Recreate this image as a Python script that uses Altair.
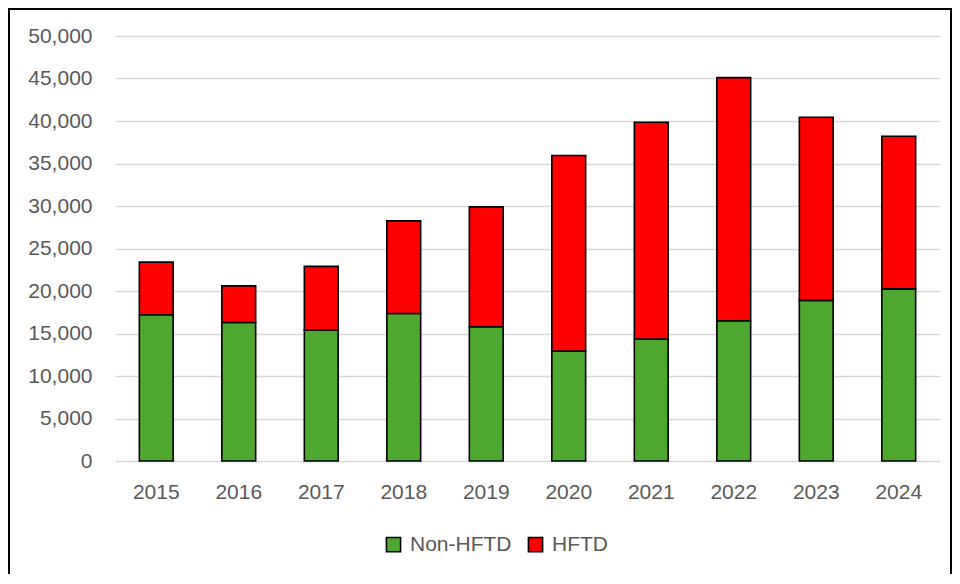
import altair as alt
import pandas as pd

years = ["2015", "2016", "2017", "2018", "2019", "2020", "2021", "2022", "2023", "2024"]
non_hftd = [17200, 16300, 15400, 17350, 15800, 12950, 14350, 16500, 18900, 20250]
totals = [23400, 20600, 22900, 28250, 29900, 35950, 39850, 45100, 40450, 38200]
hftd = [t - n for t, n in zip(totals, non_hftd)]
series = ["Non-HFTD", "HFTD"]
colors = ["#4EA72E", "#FF0000"]
y_ticks = list(range(0, 50001, 5000))

rows = []
for i, y in enumerate(years):
    rows.append({"year": y, "series": "Non-HFTD", "value": non_hftd[i], "ord": 0})
    rows.append({"year": y, "series": "HFTD", "value": hftd[i], "ord": 1})
df = pd.DataFrame(rows)

FONT = "Liberation Sans"
GRAY = "#595959"
FS = 21

bars = alt.Chart(df).mark_bar(stroke="black", strokeWidth=1.6).encode(
    x=alt.X("year:N", sort=years, title=None,
            scale=alt.Scale(paddingInner=0.59, paddingOuter=0.295),
            axis=alt.Axis(labelAngle=0, domain=False, ticks=False, labelPadding=20,
                          labelFontSize=FS, labelColor=GRAY, labelFont=FONT, grid=False)),
    y=alt.Y("value:Q", stack="zero", title=None,
            scale=alt.Scale(domain=[0, 50000], nice=False),
            axis=alt.Axis(values=y_ticks, format=",.0f", domain=False, ticks=False,
                          labelPadding=23, labelFontSize=FS, labelColor=GRAY, labelFont=FONT,
                          grid=True, gridColor="#d9d9d9", gridWidth=1.5)),
    color=alt.Color("series:N", scale=alt.Scale(domain=series, range=colors),
                    legend=alt.Legend(title=None, orient="none", direction="horizontal",
                                      legendX=268, legendY=498,
                                      symbolType="square", symbolSize=200,
                                      symbolStrokeColor="black", symbolStrokeWidth=1.6,
                                      labelFontSize=FS, labelColor=GRAY, labelFont=FONT,
                                      labelOffset=6, columnPadding=13)),
    order=alt.Order("ord:Q", sort="ascending"),
)

border = alt.Chart(alt.Data(values=[{}])).mark_rect(
    fill=None, stroke="black", strokeWidth=2
).encode(
    x=alt.value(-106), x2=alt.value(836), y=alt.value(-27), y2=alt.value(539)
)

chart = alt.layer(bars, border).properties(
    width=825, height=425,
    background="white",
    autosize=alt.AutoSizeParams(type="none"),
    padding={"left": 107, "top": 28, "right": 12, "bottom": 113},
).configure_view(strokeWidth=0, stroke="transparent")

chart.save("out.html", embed_options={"renderer": "svg", "actions": False})
